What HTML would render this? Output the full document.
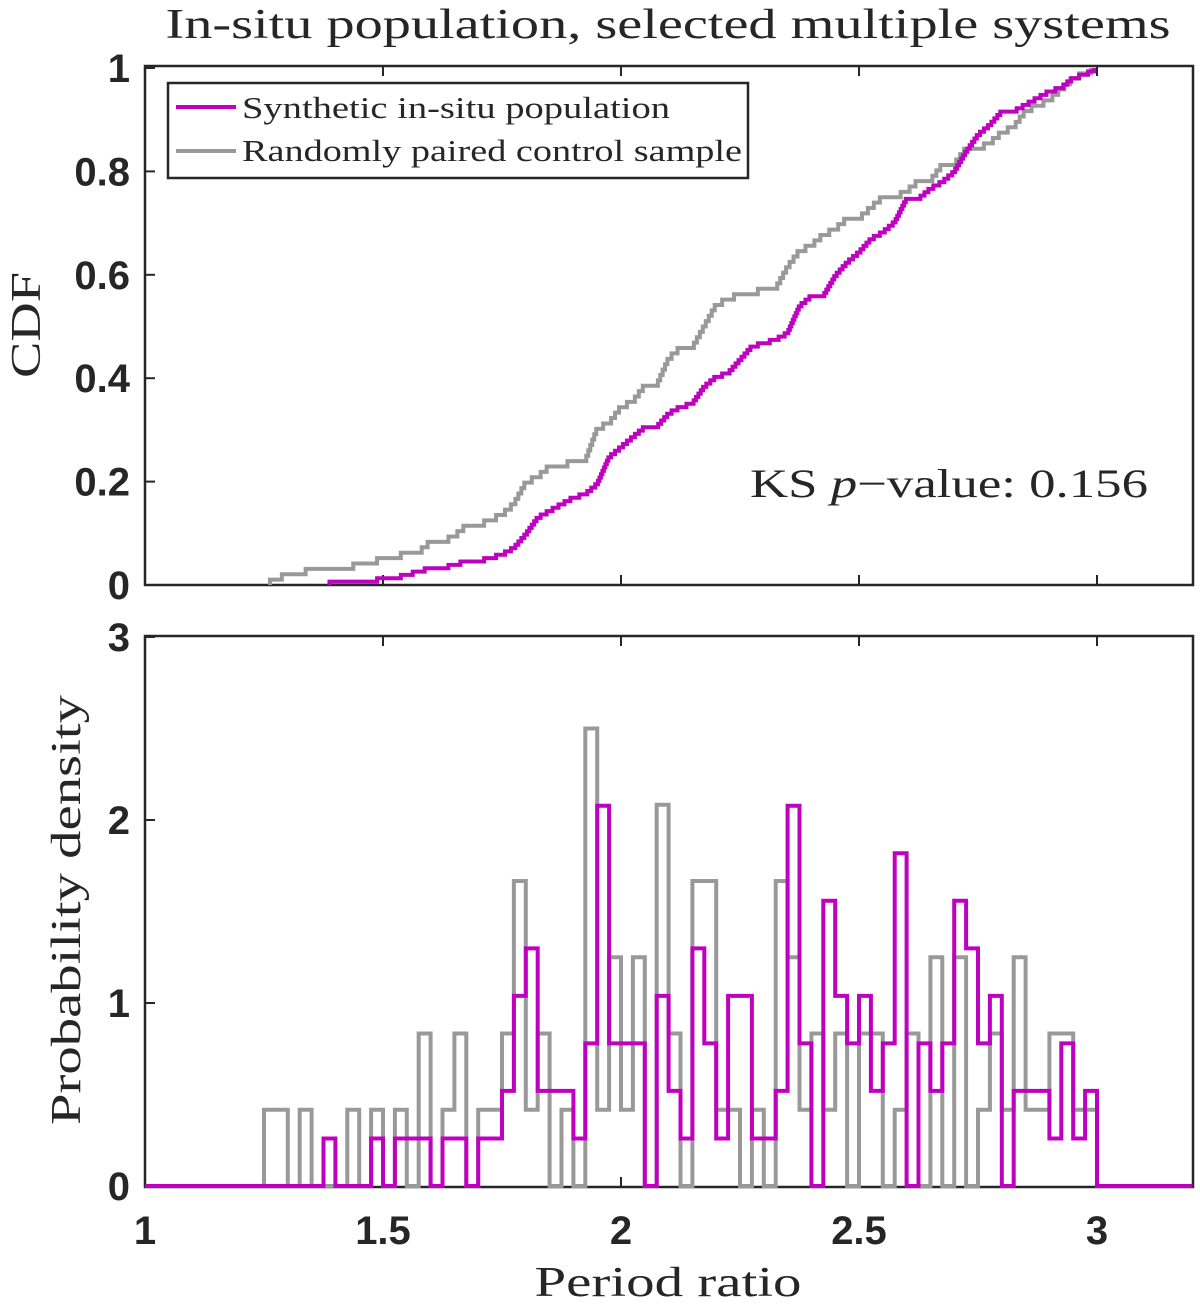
<!DOCTYPE html>
<html><head><meta charset="utf-8"><style>
html,body{margin:0;padding:0;background:#fff;}
svg{display:block;}
.tick{font-family:"Liberation Sans",sans-serif;font-weight:bold;font-size:40px;fill:#262626;}
.serif{font-family:"Liberation Serif",serif;fill:#262626;}
</style></head><body>
<svg id="chart" width="1200" height="1307" viewBox="0 0 1200 1307" xmlns="http://www.w3.org/2000/svg">
<text class="serif" x="668" y="38" font-size="42" text-anchor="middle" fill="#000" textLength="1005" lengthAdjust="spacingAndGlyphs">In-situ population, selected multiple systems</text>
<g id="topPanel"></g>
<g id="botPanel"></g>
<text class="serif" transform="translate(40,325) rotate(-90)" font-size="42" text-anchor="middle" textLength="106" lengthAdjust="spacingAndGlyphs">CDF</text>
<text class="serif" transform="translate(80,910) rotate(-90)" font-size="42" text-anchor="middle" textLength="430" lengthAdjust="spacingAndGlyphs">Probability density</text>
<text class="serif" x="668" y="1296" font-size="42" text-anchor="middle" textLength="267" lengthAdjust="spacingAndGlyphs">Period ratio</text>
<text class="serif" x="750" y="497" font-size="40" fill="#000" textLength="398" lengthAdjust="spacingAndGlyphs">KS <tspan font-style="italic">p</tspan>−value: 0.156</text>
<g>
<rect x="168" y="83" width="580" height="95" fill="#fff" stroke="#262626" stroke-width="2.5"/>
<line x1="176" y1="107" x2="236" y2="107" stroke="#c000c0" stroke-width="4"/>
<text class="serif" x="242" y="118" font-size="31" fill="#000" textLength="428" lengthAdjust="spacingAndGlyphs">Synthetic in-situ population</text>
<line x1="176" y1="151" x2="236" y2="151" stroke="#999" stroke-width="4"/>
<text class="serif" x="242" y="161" font-size="31" fill="#000" textLength="500" lengthAdjust="spacingAndGlyphs">Randomly paired control sample</text>
</g>
</svg>
<script>
const binStart = 1.25;
const binWidth = 0.025;
const synthCounts = [0,0,0,0,0,1,0,0,0,1, 0,1,1,1,0,1,1,0,1,1, 2,4,5,2,2,2,1,3,8,3, 3,3,0,4,2,1,5,3,1,4, 4,1,1,2,8,3,0,6,4,3, 4,2,3,7,0,3,2,3,6,5, 3,4,0,2,2,2,1,3,1,2];
const controlCounts = [1,1,0,1,0,0,0,1,0,1, 0,1,0,2,0,1,2,0,1,1, 2,4,1,2,0,1,0,6,1,3, 1,3,0,5,2,0,4,4,1,1, 0,1,0,4,3,1,2,1,2,0, 2,2,0,1,2,0,3,0,3,0, 1,2,1,3,1,1,2,2,1,1];
const xTicks = [1,1.5,2,2.5,3];
const cdfTicks = [0,0.2,0.4,0.6,0.8,1];
const denTicks = [0,1,2,3];

const NS = "http://www.w3.org/2000/svg";
const L = 145, R = 1193;
const xs = v => L + (v - 1) * 476;
const yTop = v => 585 - v * 517;
const yBot = v => 1186 - v * 183;
function mk(tag, attrs, parent){ const e=document.createElementNS(NS,tag); for(const k in attrs) e.setAttribute(k,attrs[k]); parent.appendChild(e); return e; }
const topG = document.getElementById('topPanel'), botG = document.getElementById('botPanel');

function axes(g, y0, y1, yf, yt, isBottom, prefix){
  for(const t of yt){
    const tl = mk('line',{x1:L,x2:L+10,y1:yf(t),y2:yf(t),stroke:'#262626','stroke-width':2},g);
    
    
    const tx = mk('text',{x:130,y:yf(t)+14,'text-anchor':'end',class:'tick'},g);
    tx.textContent = String(t);
    
    
  }
  for(const t of xTicks){
    const a = mk('line',{x1:xs(t),x2:xs(t),y1:y1,y2:y1-10,stroke:'#262626','stroke-width':2},g);
    
    
    const b = mk('line',{x1:xs(t),x2:xs(t),y1:y0,y2:y0+10,stroke:'#262626','stroke-width':2},g);
    
    
    if(isBottom){
      const tx = mk('text',{x:xs(t),y:1244,'text-anchor':'middle',class:'tick'},g);
      tx.textContent = String(t);
      
      
    }
  }
  const box = mk('rect',{x:L,y:y0,width:R-L,height:y1-y0,fill:'none',stroke:'#262626','stroke-width':2.5},g);
  
  
}

function histPath(counts){
  const total = counts.reduce((a,b)=>a+b,0);
  const dens = counts.map(c => c/(total*binWidth));
  let d = 'M'+xs(1)+','+yBot(0)+' L'+xs(binStart)+','+yBot(0);
  dens.forEach((v,i)=>{
    const a = binStart + i*binWidth, b = a + binWidth;
    d += ' L'+xs(a)+','+yBot(v)+' L'+xs(b)+','+yBot(v);
  });
  const end = binStart + counts.length*binWidth;
  d += ' L'+xs(end)+','+yBot(0)+' L'+xs(3.2)+','+yBot(0);
  return d;
}
function cdfPath(counts){
  const samples = [];
  counts.forEach((c,i)=>{ for(let k=0;k<c;k++) samples.push(binStart + i*binWidth + binWidth*(k+0.5)/c); });
  const n = samples.length;
  let d = 'M'+xs(samples[0])+','+yTop(0);
  samples.forEach((s,i)=>{ d += ' L'+xs(s)+','+yTop(i/n)+' L'+xs(s)+','+yTop((i+1)/n); if(i<n-1) d+=' L'+xs(samples[i+1])+','+yTop((i+1)/n); });
  return d;
}

axes(topG, 66, 585, yTop, cdfTicks, false, 'cdf');
axes(botG, 636, 1187, yBot, denTicks, true, 'density');

const c1 = mk('path',{d:cdfPath(controlCounts),fill:'none',stroke:'#999','stroke-width':4},topG);


const c2 = mk('path',{d:cdfPath(synthCounts),fill:'none',stroke:'#c000c0','stroke-width':4},topG);



const h1 = mk('path',{d:histPath(controlCounts),fill:'none',stroke:'#999','stroke-width':4},botG);


const h2 = mk('path',{d:histPath(synthCounts),fill:'none',stroke:'#c000c0','stroke-width':4},botG);


</script>
</body></html>
